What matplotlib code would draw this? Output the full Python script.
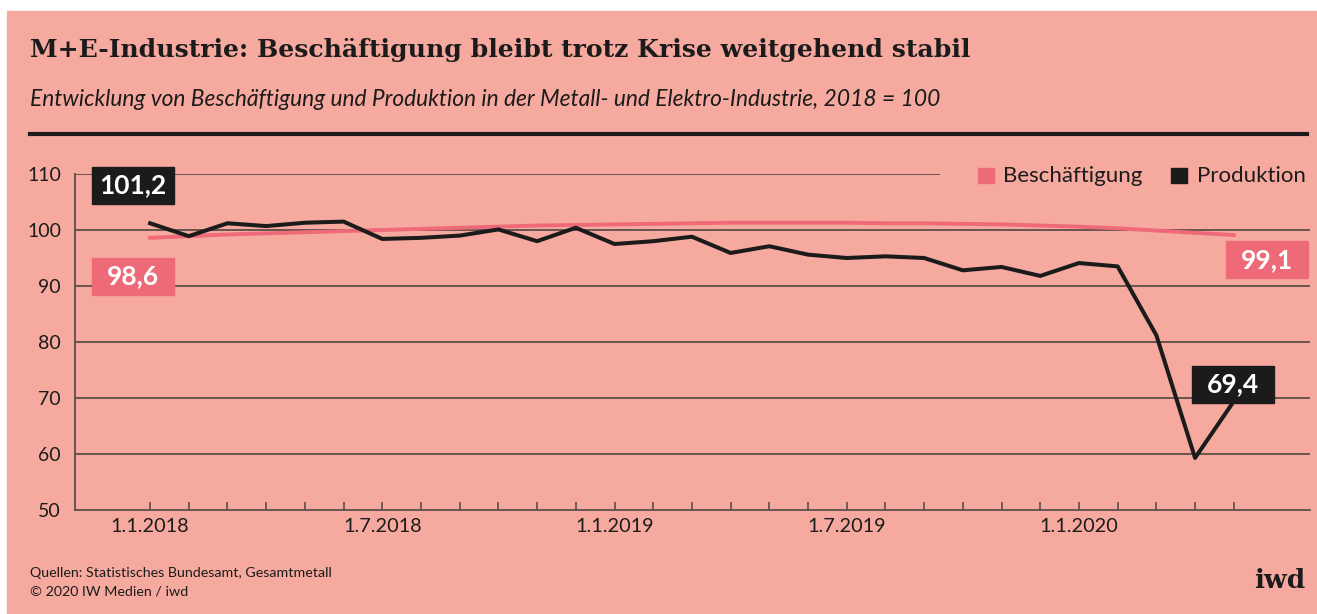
import numpy as np
import matplotlib
matplotlib.use('Agg')
import matplotlib.pyplot as plt
from matplotlib.patches import Rectangle
from matplotlib.lines import Line2D

plt.rcParams['font.family'] = ['Lato', 'DejaVu Sans']

# ---------- data (index 0 = Jan 2018 ... 28 = May 2020), 2018 = 100
months = list(range(29))
produktion = [101.2, 98.9, 101.2, 100.7, 101.3, 101.5, 98.4, 98.6, 99.0, 100.1,
              98.0, 100.4, 97.5, 98.0, 98.8, 95.9, 97.1, 95.6, 95.0, 95.3,
              95.0, 92.8, 93.4, 91.8, 94.1, 93.5, 81.2, 59.3, 69.4]
beschaeftigung = [98.6, 98.9, 99.2, 99.4, 99.6, 99.8, 100.0, 100.2, 100.4, 100.6,
                  100.8, 100.9, 101.0, 101.1, 101.2, 101.3, 101.3, 101.3, 101.3, 101.2,
                  101.2, 101.1, 101.0, 100.8, 100.6, 100.3, 99.9, 99.5, 99.1]
label_pos = [0, 6, 12, 18, 24]
label_txt = ['1.1.2018', '1.7.2018', '1.1.2019', '1.7.2019', '1.1.2020']
y_ticks = [50, 60, 70, 80, 90, 100, 110]

# ---------- colours
BG = '#F6AA9F'
PINK = '#EE6A78'
DARK = '#1c1b1b'
GRID = '#5e4d4a'

W, H = 1317, 614
fig = plt.figure(figsize=(W / 100, H / 100), dpi=100, facecolor='white')
# pink card (white strip top/left like the original)
fig.patches.append(Rectangle((7 / W, 0), 1 - 7 / W, 1 - 11 / H, transform=fig.transFigure,
                             color=BG, zorder=-10))

# ---------- header
fig.text(30 / W, 1 - 50 / H, 'M+E-Industrie: Beschäftigung bleibt trotz Krise weitgehend stabil',
         fontfamily='DejaVu Serif', fontweight='bold', fontsize=18.1, color=DARK, va='center')
fig.text(30 / W, 1 - 100 / H,
         'Entwicklung von Beschäftigung und Produktion in der Metall- und Elektro-Industrie, 2018 = 100',
         style='italic', fontsize=16.4, color=DARK, va='center')
fig.add_artist(Line2D([30 / W, 1307 / W], [1 - 134 / H, 1 - 134 / H], lw=3, color=DARK))

# ---------- axes
ax = fig.add_axes([75 / W, 1 - 510 / H, (1310 - 75) / W, 336 / H])
ax.patch.set_alpha(0)
ax.set_xlim(-1.94, 29.97)
ax.set_ylim(50, 110)

for v in y_ticks[1:-1]:
    ax.axhline(v, color=GRID, lw=1.3, zorder=1)
ax.hlines(110, -1.94, 20.4, color=GRID, lw=1.3, zorder=1)

for s in ['top', 'right']:
    ax.spines[s].set_visible(False)
for s in ['left', 'bottom']:
    ax.spines[s].set_color(GRID)
    ax.spines[s].set_linewidth(1.3)

ax.set_yticks(y_ticks)
ax.set_yticklabels([str(v) for v in y_ticks])
ax.set_xticks(months)
ax.set_xticklabels([label_txt[label_pos.index(m)] if m in label_pos else '' for m in months])
ax.tick_params(axis='x', direction='in', length=6, width=1.2, color=GRID, pad=6,
               labelsize=14.3, labelcolor=DARK)
ax.tick_params(axis='y', length=0, pad=10, labelsize=14, labelcolor=DARK)

# lines
ax.plot(months, beschaeftigung, color=PINK, lw=2.8, zorder=3)
ax.plot(months, produktion, color=DARK, lw=2.9, zorder=4)


# value boxes
def value_box(x, y, text, color):
    w, h = 82 / 38.7, 37 / 5.6
    ax.add_patch(Rectangle((x - w / 2, y - h / 2), w, h, color=color, clip_on=False, zorder=5))
    ax.text(x, y, text, color='white', fontsize=19, fontweight='bold', ha='center',
            va='center', zorder=6, clip_on=False)


def fmt(v):
    return ('%.1f' % v).replace('.', ',')


value_box(months[0] - 0.44, produktion[0] + 6.75, fmt(produktion[0]), DARK)
value_box(months[0] - 0.44, beschaeftigung[0] - 6.9, fmt(beschaeftigung[0]), PINK)
value_box(months[-1] + 0.86, beschaeftigung[-1] - 4.45, fmt(beschaeftigung[-1]), PINK)
value_box(months[-1] - 0.02, produktion[-1] + 3.1, fmt(produktion[-1]), DARK)

# ---------- legend
fig.patches.append(Rectangle((978 / W, 1 - 183 / H), 16 / W, 15 / H, transform=fig.transFigure,
                             color=PINK))
fig.text(1003 / W, 1 - 175.5 / H, 'Beschäftigung', va='center', fontsize=16, color=DARK)
fig.patches.append(Rectangle((1171 / W, 1 - 183 / H), 16 / W, 15 / H, transform=fig.transFigure,
                             color=DARK))
fig.text(1197 / W, 1 - 175.5 / H, 'Produktion', va='center', fontsize=16, color=DARK)

# ---------- footer
fig.text(30 / W, 1 - 573 / H, 'Quellen: Statistisches Bundesamt, Gesamtmetall',
         fontsize=10.3, color=DARK, va='center')
fig.text(30 / W, 1 - 591 / H, '© 2020 IW Medien / iwd', fontsize=10.3, color=DARK, va='center')
fig.text(1305 / W, 1 - 580 / H, 'iwd', ha='right', va='center', fontfamily='DejaVu Serif',
         fontweight='bold', fontsize=19, color=DARK)

fig.savefig('out.png', dpi=100)
